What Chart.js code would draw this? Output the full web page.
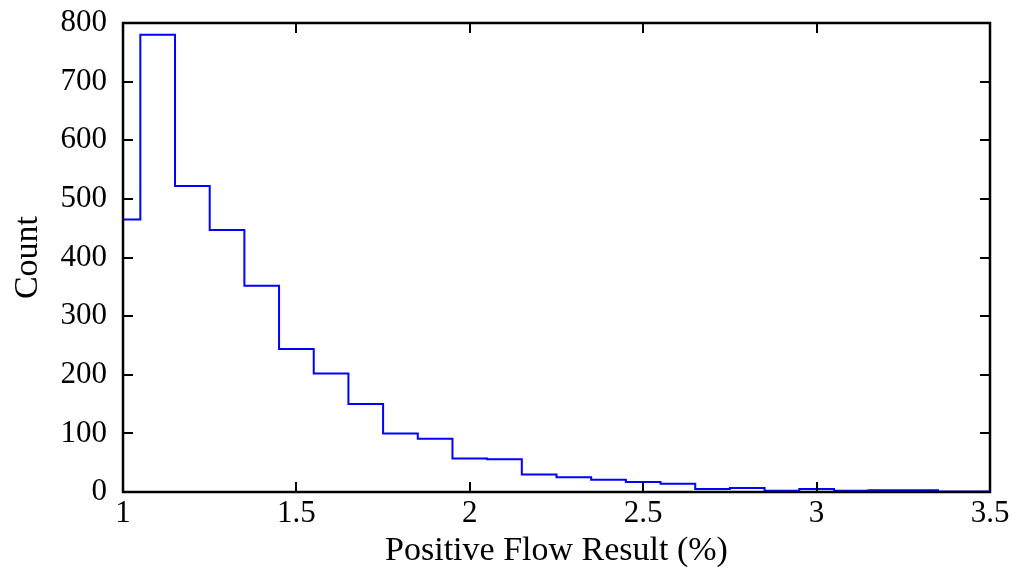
<!DOCTYPE html>
<html>
<head>
<meta charset="utf-8">
<script src="https://cdn.jsdelivr.net/npm/chart.js@4.4.1/dist/chart.umd.min.js"></script>
<style>
  html, body { margin: 0; padding: 0; background: #fff; }
  #wrap { width: 1018px; height: 571px; }
</style>
</head>
<body>
<div id="wrap"><canvas id="hist"></canvas></div>
<script>
// bin left edges and counts
var binEdges = [0.95, 1.05, 1.15, 1.25, 1.35, 1.45, 1.55, 1.65, 1.75, 1.85, 1.95, 2.05, 2.15,
                2.25, 2.35, 2.45, 2.55, 2.65, 2.75, 2.85, 2.95, 3.05, 3.15, 3.25, 3.35, 3.45, 3.55];
var counts = [465, 780, 522, 447, 352, 244, 202, 150, 100, 91, 57, 56, 30,
              25, 21, 17, 14, 5, 7, 2, 5, 2, 3, 3, 1, 1];
var xTicks = [1, 1.5, 2, 2.5, 3, 3.5];
var yTicks = [0, 100, 200, 300, 400, 500, 600, 700, 800];

var FONT = "'Liberation Serif', 'DejaVu Serif', serif";

// step points: each bin starts at its edge, last point closes the final bin
var pts = [];
for (var i = 0; i < counts.length; i++) {
    pts.push({x: binEdges[i], y: counts[i]});
}
pts.push({x: binEdges[counts.length], y: counts[counts.length - 1]});

// box frame with inward ticks on all four sides
var framePlugin = {
    id: 'frame',
    afterDatasetsDraw: function(chart) {
        var ctx = chart.ctx;
        var a = chart.chartArea;
        var xs = chart.scales.x, ys = chart.scales.y;
        var len = 10;
        ctx.save();
        ctx.strokeStyle = '#000';
        ctx.lineWidth = 2;
        ctx.beginPath();
        xTicks.forEach(function(v) {
            var px = Math.round(xs.getPixelForValue(v));
            if (v > xs.min && v < xs.max) {
                ctx.moveTo(px, a.bottom); ctx.lineTo(px, a.bottom - len);
                ctx.moveTo(px, a.top); ctx.lineTo(px, a.top + len);
            }
        });
        yTicks.forEach(function(v) {
            var py = Math.round(ys.getPixelForValue(v));
            if (v > ys.min && v < ys.max) {
                ctx.moveTo(a.left, py); ctx.lineTo(a.left + len, py);
                ctx.moveTo(a.right, py); ctx.lineTo(a.right - len, py);
            }
        });
        ctx.stroke();
        ctx.lineWidth = 2.5;
        ctx.strokeRect(a.left, a.top, a.right - a.left, a.bottom - a.top);
        ctx.restore();
    }
};

new Chart(document.getElementById('hist'), {
    type: 'line',
    data: {
        datasets: [{
            data: pts,
            stepped: 'before',
            borderColor: '#0000ff',
            borderWidth: 2,
            pointRadius: 0,
            fill: false
        }]
    },
    options: {
        responsive: true,
        maintainAspectRatio: false,
        animation: false,
        events: [],
        layout: { padding: { left: 8, right: 28, top: 23, bottom: 0 } },
        plugins: { legend: { display: false }, tooltip: { enabled: false } },
        scales: {
            x: {
                type: 'linear',
                min: 1,
                max: 3.5,
                afterBuildTicks: function(s) { s.ticks = xTicks.map(function(v) { return {value: v}; }); },
                afterFit: function(s) { s.height = 79; s.paddingLeft = 0; s.paddingRight = 0; },
                grid: { display: false, drawTicks: false },
                border: { display: false },
                ticks: { color: '#000', font: { family: FONT, size: 31 }, padding: 3, maxRotation: 0,
                         callback: function(v) { return String(v); } },
                title: { display: true, text: 'Positive Flow Result (%)', color: '#000',
                         font: { family: FONT, size: 34 }, padding: { top: 0, bottom: 0 } }
            },
            y: {
                min: 0,
                max: 800,
                afterBuildTicks: function(s) { s.ticks = yTicks.map(function(v) { return {value: v}; }); },
                afterFit: function(s) { s.width = 115; s.paddingTop = 0; s.paddingBottom = 0; },
                grid: { display: false, drawTicks: false },
                border: { display: false },
                ticks: { color: '#000', font: { family: FONT, size: 31 }, padding: 16,
                         callback: function(v) { return String(v); } },
                title: { display: true, text: 'Count', color: '#000',
                         font: { family: FONT, size: 34 }, padding: { top: 0, bottom: 4 } }
            }
        }
    },
    plugins: [framePlugin]
});
</script>
</body>
</html>
